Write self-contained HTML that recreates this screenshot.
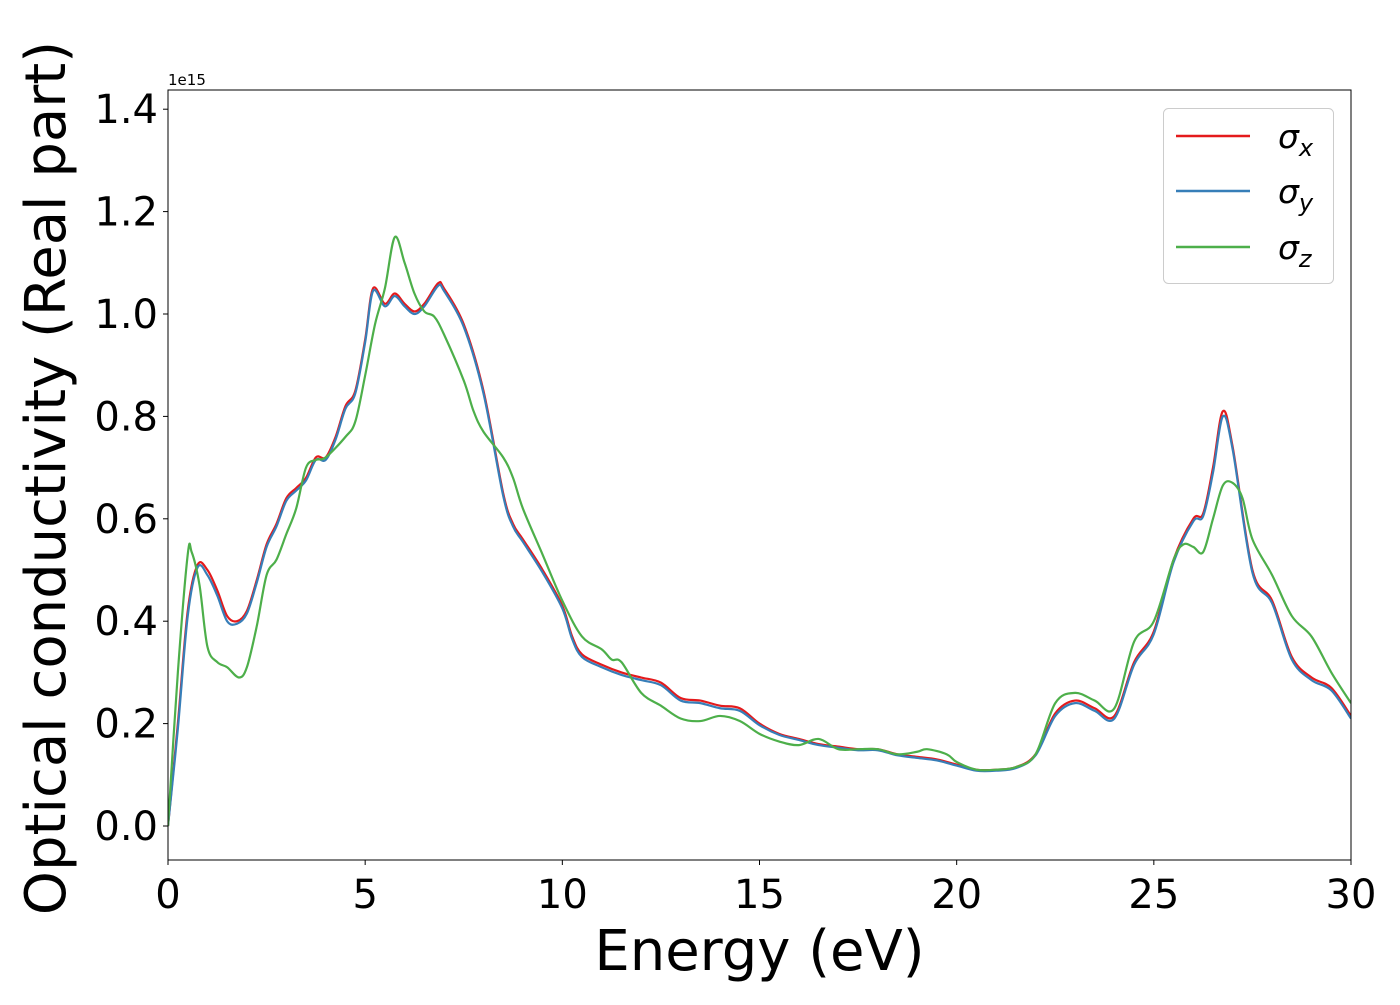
<!DOCTYPE html>
<html><head><meta charset="utf-8"><style>
body{margin:0;background:#fff;width:1400px;height:1000px;overflow:hidden}
svg text{font-family:"DejaVu Sans","Liberation Sans",sans-serif}
</style></head><body>
<svg id="chart" width="1400" height="1000"></svg>
<script>
const energyXY=[0,0.25,0.5,0.75,1.0,1.25,1.5,1.75,2.0,2.25,2.5,2.75,3.0,3.25,3.5,3.75,4.0,4.25,4.5,4.75,5.0,5.2,5.5,5.75,6.0,6.25,6.5,6.85,7.0,7.5,8.0,8.5,8.75,9.0,9.5,10.0,10.25,10.5,11.0,11.5,12.0,12.5,13.0,13.5,14.0,14.5,15.0,15.5,16.0,16.5,17.0,17.5,18.0,18.5,19.0,19.5,20.0,20.5,21.0,21.5,22.0,22.5,23.0,23.5,24.0,24.5,25.0,25.5,26.0,26.25,26.5,26.75,27.0,27.5,28.0,28.5,29.0,29.5,30];
const sigmaX=[0,0.2,0.42,0.51,0.5,0.46,0.41,0.40,0.42,0.48,0.55,0.59,0.64,0.66,0.68,0.72,0.72,0.76,0.82,0.85,0.95,1.05,1.02,1.04,1.02,1.005,1.02,1.06,1.05,0.98,0.85,0.65,0.59,0.56,0.50,0.43,0.37,0.335,0.315,0.30,0.29,0.28,0.25,0.245,0.235,0.23,0.20,0.18,0.17,0.16,0.155,0.15,0.15,0.14,0.135,0.13,0.12,0.11,0.11,0.115,0.14,0.22,0.245,0.23,0.215,0.32,0.38,0.52,0.6,0.61,0.7,0.81,0.74,0.50,0.44,0.33,0.29,0.27,0.215];
const sigmaY=[0,0.19,0.41,0.505,0.49,0.45,0.40,0.395,0.415,0.475,0.545,0.585,0.635,0.655,0.675,0.715,0.715,0.755,0.815,0.845,0.945,1.045,1.015,1.035,1.015,1.0,1.015,1.055,1.045,0.975,0.845,0.645,0.585,0.555,0.495,0.425,0.365,0.33,0.31,0.295,0.285,0.275,0.245,0.24,0.23,0.225,0.197,0.178,0.168,0.158,0.153,0.148,0.148,0.138,0.133,0.128,0.118,0.108,0.108,0.113,0.138,0.215,0.24,0.225,0.21,0.315,0.375,0.515,0.595,0.605,0.69,0.80,0.735,0.495,0.435,0.325,0.285,0.265,0.21];
const energyZ=[0,0.25,0.5,0.6,0.8,1.0,1.25,1.5,1.8,2.0,2.25,2.5,2.75,3.0,3.25,3.5,3.75,4.0,4.5,4.75,5.0,5.25,5.5,5.75,6.0,6.25,6.5,6.75,7.0,7.5,7.75,8.0,8.5,8.75,9.0,9.5,10.0,10.5,11.0,11.25,11.5,12.0,12.5,13.0,13.5,14.0,14.5,15.0,15.5,16.0,16.5,17.0,17.5,18.0,18.5,19.0,19.25,19.75,20.0,20.5,21.0,21.5,22.0,22.5,23.0,23.5,24.0,24.5,25.0,25.5,25.75,26.0,26.25,26.5,26.75,27.0,27.25,27.5,28.0,28.5,29.0,29.5,30];
const sigmaZ=[0,0.3,0.53,0.535,0.47,0.35,0.32,0.31,0.29,0.31,0.39,0.49,0.52,0.57,0.62,0.70,0.715,0.72,0.76,0.79,0.88,0.98,1.05,1.15,1.10,1.04,1.005,0.995,0.96,0.87,0.81,0.77,0.72,0.68,0.62,0.53,0.44,0.37,0.345,0.325,0.32,0.26,0.235,0.21,0.205,0.215,0.205,0.18,0.165,0.158,0.17,0.15,0.15,0.15,0.14,0.145,0.15,0.14,0.125,0.11,0.11,0.115,0.14,0.24,0.26,0.245,0.23,0.36,0.40,0.52,0.55,0.545,0.535,0.60,0.665,0.67,0.64,0.56,0.49,0.41,0.37,0.30,0.24];
const xTicks=[0,5,10,15,20,25,30];
const yTicks=[0.0,0.2,0.4,0.6,0.8,1.0,1.2,1.4];

const L=168,R=1351,T=90,B=860;
const xMin=0,xMax=30,yMin=-0.0664,yMax=1.4375;
const sx=v=>L+(v-xMin)/(xMax-xMin)*(R-L);
const sy=v=>B-(v-yMin)/(yMax-yMin)*(B-T);
const NS='http://www.w3.org/2000/svg';
const svg=document.getElementById('chart');
function mk(tag,attrs,parent){const e=document.createElementNS(NS,tag);for(const k in attrs)e.setAttribute(k,attrs[k]);(parent||svg).appendChild(e);return e;}

function pathFor(xs,ys){
  const p=xs.map((x,i)=>[sx(x),sy(ys[i])]);
  let d='M'+p[0][0]+','+p[0][1];
  for(let i=0;i<p.length-1;i++){
    const p0=p[Math.max(0,i-1)],p1=p[i],p2=p[i+1],p3=p[Math.min(p.length-1,i+2)];
    const c1x=p1[0]+(p2[0]-p0[0])/6,c1y=p1[1]+(p2[1]-p0[1])/6;
    const c2x=p2[0]-(p3[0]-p1[0])/6,c2y=p2[1]-(p3[1]-p1[1])/6;
    d+=' C'+c1x+','+c1y+' '+c2x+','+c2y+' '+p2[0]+','+p2[1];
  }
  return d;
}

const clip=mk('clipPath',{id:'pc'});mk('rect',{x:L,y:T,width:R-L,height:B-T},clip);
const g=mk('g',{'clip-path':'url(#pc)'});


const series=[[energyXY,sigmaX,'#e41a1c','sigma-x-line'],[energyXY,sigmaY,'#377eb8','sigma-y-line'],[energyZ,sigmaZ,'#4daf4a','sigma-z-line']];
series.forEach(s=>{
  const e=mk('path',{d:pathFor(s[0],s[1]),fill:'none',stroke:s[2],'stroke-width':2.2},g);
  
  
});
const frame=mk('rect',{x:L,y:T,width:R-L,height:B-T,fill:'none',stroke:'#000','stroke-width':1});



xTicks.forEach(t=>{
  mk('line',{x1:sx(t),x2:sx(t),y1:B,y2:B+5,stroke:'#000'});
  const tx=mk('text',{x:sx(t),y:B+48,'text-anchor':'middle','font-size':40});
  tx.textContent=t;
  
  
});
yTicks.forEach(t=>{
  mk('line',{x1:L-5,x2:L,y1:sy(t),y2:sy(t),stroke:'#000'});
  const tx=mk('text',{x:L-10,y:sy(t)+14,'text-anchor':'end','font-size':40});
  tx.textContent=t.toFixed(1);
  
  
});
const off=mk('text',{x:L,y:85,'font-size':15});off.textContent='1e15';


const xl=mk('text',{x:(L+R)/2,y:970,'text-anchor':'middle','font-size':56});xl.textContent='Energy (eV)';


const yl=mk('text',{x:0,y:0,'text-anchor':'middle','font-size':56,transform:'translate(65,478) rotate(-90)'});yl.textContent='Optical conductivity (Real part)';



const lg=mk('g',{});


mk('rect',{x:1163.5,y:108.5,width:170,height:175,rx:5,fill:'#fff',stroke:'#ccc','stroke-width':1},lg);
[['x','#e41a1c',136],['y','#377eb8',191],['z','#4daf4a',247]].forEach(e=>{
  const it=mk('g',{},lg);
  
  
  mk('line',{x1:1176,x2:1250,y1:e[2],y2:e[2],stroke:e[1],'stroke-width':2.5},it);
  const t=mk('text',{x:1278,y:e[2]+12,'font-size':33,'font-style':'italic'},it);
  t.textContent='σ';
  const s=mk('tspan',{'font-size':24,dy:8},t);s.textContent=e[0];
});
</script>
</body></html>
